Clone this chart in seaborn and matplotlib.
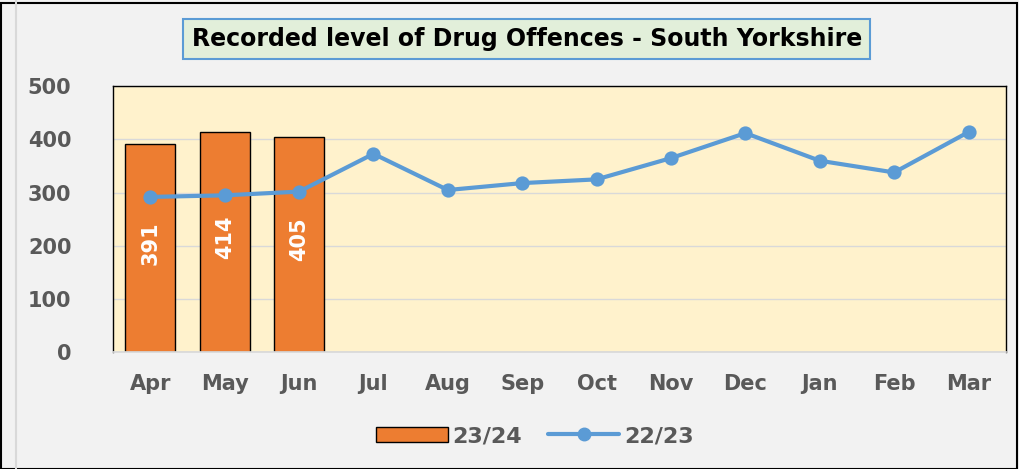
import matplotlib
matplotlib.use('Agg')
import matplotlib.pyplot as plt
import seaborn as sns
import pandas as pd
from matplotlib.patches import Rectangle
from matplotlib.lines import Line2D
from matplotlib.patches import Patch

# Data
months = ['Apr', 'May', 'Jun', 'Jul', 'Aug', 'Sep', 'Oct', 'Nov', 'Dec', 'Jan', 'Feb', 'Mar']
bar_months = ['Apr', 'May', 'Jun']
offences_2324 = [391, 414, 405]
offences_2223 = [292, 295, 302, 373, 305, 318, 325, 365, 412, 360, 338, 414]

orange = '#ed7d31'
blue = '#5b9bd5'
grey_text = '#595959'

sns.set_theme(style='white')
plt.rcParams['font.family'] = ['DejaVu Sans']

fig = plt.figure(figsize=(10.19, 4.69), dpi=100, facecolor='#f2f2f2')
ax = fig.add_axes([0.111, 0.249, 0.876, 0.567])
ax.set_facecolor('#fff2cc')

bars_df = pd.DataFrame({'month': bar_months, 'value': offences_2324})
line_df = pd.DataFrame({'month': months, 'value': offences_2223})

sns.barplot(data=bars_df, x='month', y='value', order=months, color=orange,
            saturation=1, width=0.67, edgecolor='black', linewidth=1, ax=ax, zorder=2)
sns.pointplot(data=line_df, x='month', y='value', order=months, color=blue,
              markers='o', markersize=8, linewidth=3, ax=ax, zorder=3)

# rotated value labels inside bars
for i, v in enumerate(offences_2324):
    ax.text(i, v / 2 + 10, str(v), rotation=90, ha='center', va='center',
            color='white', fontsize=15, fontweight='bold', zorder=4)

ax.set_ylim(0, 500)
ax.set_xlim(-0.5, 11.5)
ax.set_yticks([0, 100, 200, 300, 400, 500])
ax.yaxis.grid(True, color='#d9d9d9', linewidth=1)
ax.set_axisbelow(True)
ax.set_xlabel('')
ax.set_ylabel('')
ax.tick_params(axis='both', length=0, labelsize=15, labelcolor=grey_text)
ax.tick_params(axis='x', pad=16)
ax.tick_params(axis='y', pad=30)
for lab in ax.get_xticklabels() + ax.get_yticklabels():
    lab.set_fontweight('bold')
for side in ['top', 'right', 'left']:
    ax.spines[side].set_color('black')
    ax.spines[side].set_linewidth(1)
ax.spines['bottom'].set_color('#d9d9d9')

fig.text(0.517, 0.917, 'Recorded level of Drug Offences - South Yorkshire',
         ha='center', va='center', fontsize=17, fontweight='bold', color='black',
         bbox=dict(boxstyle='square,pad=0.35', facecolor='#e2efda', edgecolor=blue, linewidth=1.5))

handles = [Patch(facecolor=orange, edgecolor='black', linewidth=1),
           Line2D([0], [0], color=blue, linewidth=3, marker='o', markersize=9)]
leg = fig.legend(handles, ['23/24', '22/23'], loc='center', bbox_to_anchor=(0.525, 0.07),
                 ncol=2, frameon=False, fontsize=16, handlelength=3.2, columnspacing=1.2,
                 handletextpad=0.2)
for t in leg.get_texts():
    t.set_color(grey_text)
    t.set_fontweight('bold')

# outer frame and inner panel edge
fig.patches.append(Rectangle((0.001, 0.0), 0.997, 0.993, transform=fig.transFigure,
                             fill=False, edgecolor='black', linewidth=1.5))
fig.patches.append(Rectangle((0.016, -0.01), 0.99, 1.1, transform=fig.transFigure,
                             fill=False, edgecolor='#d9d9d9', linewidth=1.5))

fig.savefig('out.png', dpi=100, facecolor=fig.get_facecolor())
